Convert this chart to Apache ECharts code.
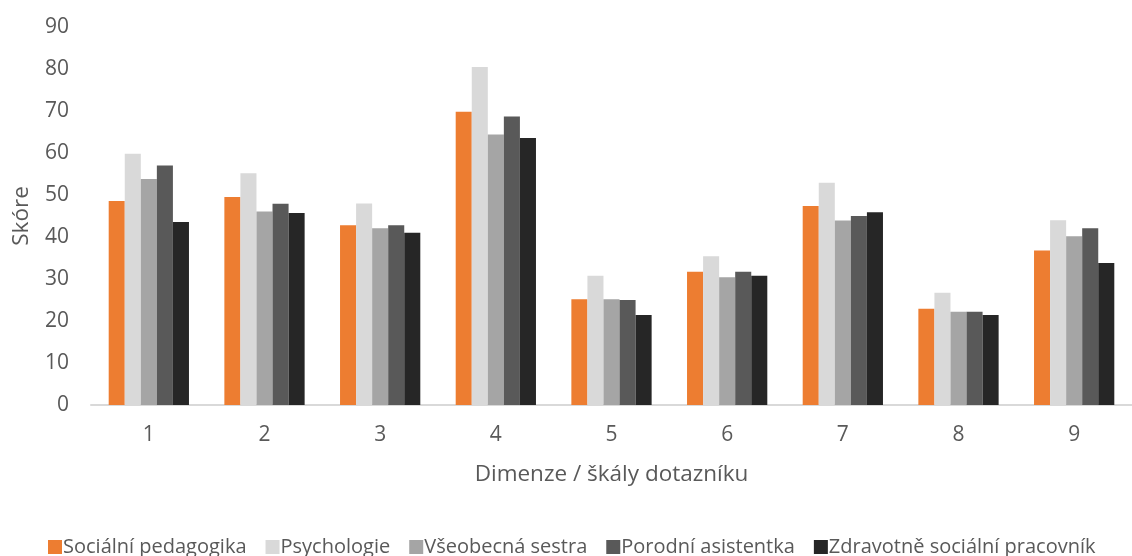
<!DOCTYPE html>
<html>
<head>
<meta charset="utf-8">
<script src="https://cdn.jsdelivr.net/npm/echarts@6/dist/echarts.min.js"></script>
<style>
html,body{margin:0;padding:0;background:#fff;}
#c{width:1132px;height:556px;}
</style>
</head>
<body>
<div id="c"></div>
<script>
var categories = ['1','2','3','4','5','6','7','8','9'];
var seriesNames = ['Sociální pedagogika','Psychologie','Všeobecná sestra','Porodní asistentka','Zdravotně sociální pracovník'];
var socialniPedagogika = [48.6, 49.5, 42.8, 69.8, 25.2, 31.7, 47.4, 22.9, 36.8];
var psychologie        = [59.8, 55.2, 48.0, 80.5, 30.8, 35.4, 52.9, 26.7, 44.0];
var vseobecnaSestra    = [53.8, 46.1, 42.1, 64.4, 25.2, 30.4, 43.9, 22.2, 40.2];
var porodniAsistentka  = [57.0, 47.9, 42.8, 68.7, 25.0, 31.7, 45.0, 22.2, 42.1];
var zdravotneSocialni  = [43.6, 45.7, 41.0, 63.6, 21.4, 30.8, 45.9, 21.4, 33.8];
var yTicks = [0,10,20,30,40,50,60,70,80,90];

var colors = ['#ED7D31','#D9D9D9','#A5A5A5','#595959','#262626'];
var allData = [socialniPedagogika, psychologie, vseobecnaSestra, porodniAsistentka, zdravotneSocialni];
var font = 'Open Sans';
var chart = echarts.init(document.getElementById('c'), null, {renderer:'canvas'});
chart.setOption({
  animation:false,
  color: colors,
  textStyle:{fontFamily:font},
  grid:{left:91, width:1054, top:27, height:378, containLabel:false},
  legend:{
    bottom:-6, left:43,
    itemWidth:14, itemHeight:14, itemGap:19,
    icon:'rect',
    textStyle:{fontFamily:font, fontSize:20, color:'#595959', padding:[0,0,0,-4]},
    data: seriesNames
  },
  xAxis:{
    type:'category', data:categories,
    axisLine:{lineStyle:{color:'#D9D9D9', width:2}},
    axisTick:{show:false},
    axisLabel:{color:'#595959', fontSize:21, fontFamily:font, margin:20},
    name:'Dimenze / škály dotazníku',
    nameLocation:'middle', nameGap:58,
    nameTextStyle:{color:'#595959', fontSize:22.5, fontFamily:font}
  },
  yAxis:{
    type:'value', min:0, max:90, interval:10,
    axisLine:{show:false}, axisTick:{show:false},
    splitLine:{show:false},
    axisLabel:{color:'#595959', fontSize:21, fontFamily:font, margin:22},
    name:'Skóre', nameLocation:'middle', nameGap:58,
    nameTextStyle:{color:'#595959', fontSize:22.5, fontFamily:font}
  },
  series: seriesNames.map(function(n,i){
    return {type:'bar', name:n, data:allData[i], barGap:'0%', barCategoryGap:'30.6%',
      itemStyle:{color:colors[i]}};
  })
});
</script>
</body>
</html>
